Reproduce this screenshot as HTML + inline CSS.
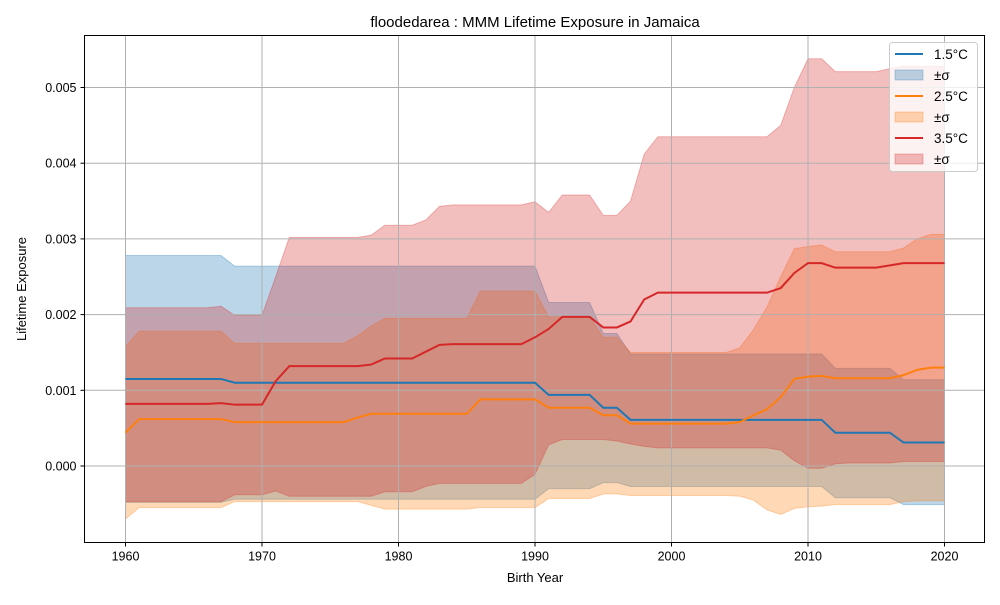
<!DOCTYPE html>
<html><head><meta charset="utf-8"><style>
body{margin:0;background:#fff;}
svg text{font-family:"Liberation Sans","DejaVu Sans",sans-serif;}
</style></head><body>
<svg id="chart" width="1000" height="600" xmlns="http://www.w3.org/2000/svg">
<rect width="1000" height="600" fill="#fff"/>
<text x="535" y="27" text-anchor="middle" font-size="15">floodedarea : MMM Lifetime Exposure in Jamaica</text>
<g id="fills"></g><g id="grid"></g><g id="lines"></g><g id="axes"></g>
<text x="535" y="582" text-anchor="middle" font-size="13">Birth Year</text>
<text transform="translate(26,289) rotate(-90)" text-anchor="middle" font-size="13">Lifetime Exposure</text>
<g id="legend"></g>
</svg>
<script>
const years = [];for(let y=1960;y<=2020;y++)years.push(y);
function seg(list){const out=[];for(const [v,n] of list)for(let i=0;i<n;i++)out.push(v/1000);return out;}
const mean15 = seg([[1.15,8],[1.10,23],[0.94,4],[0.77,2],[0.61,15],[0.44,5],[0.31,4]]);
const up15 = seg([[2.78,8],[2.64,23],[2.16,4],[1.75,2],[1.48,15],[1.29,5],[1.14,4]]);
const lo15 = seg([[-0.48,8],[-0.44,23],[-0.30,4],[-0.22,2],[-0.27,15],[-0.42,5],[-0.51,4]]);
const mean25 = seg([[0.44,1],[0.62,7],[0.58,9],[0.64,1],[0.69,8],[0.88,5],[0.77,4],[0.67,2],[0.56,8],[0.58,1],[0.67,1],[0.75,1],[0.91,1],[1.15,1],[1.18,1],[1.19,1],[1.16,5],[1.20,1],[1.27,1],[1.30,2]]);
const up25 = seg([[1.58,1],[1.78,7],[1.62,9],[1.72,1],[1.85,1],[1.95,7],[2.31,5],[1.97,4],[1.70,2],[1.50,8],[1.56,1],[1.80,1],[2.10,1],[2.50,1],[2.87,1],[2.90,1],[2.92,1],[2.83,5],[2.88,1],[3.00,1],[3.06,2]]);
const lo25 = seg([[-0.70,1],[-0.55,7],[-0.47,10],[-0.52,1],[-0.57,7],[-0.55,5],[-0.43,4],[-0.37,2],[-0.39,8],[-0.40,1],[-0.45,1],[-0.58,1],[-0.64,1],[-0.56,1],[-0.54,1],[-0.53,1],[-0.51,5],[-0.47,1],[-0.46,3]]);
const mean35 = seg([[0.82,7],[0.83,1],[0.81,3],[1.12,1],[1.32,6],[1.34,1],[1.42,3],[1.51,1],[1.60,1],[1.61,6],[1.70,1],[1.81,1],[1.97,3],[1.83,2],[1.91,1],[2.20,1],[2.29,9],[2.35,1],[2.55,1],[2.68,2],[2.62,4],[2.65,1],[2.68,4]]);
const up35 = seg([[2.09,7],[2.11,1],[1.99,3],[2.50,1],[3.02,6],[3.05,1],[3.18,3],[3.25,1],[3.43,1],[3.45,6],[3.49,1],[3.35,1],[3.58,3],[3.31,2],[3.50,1],[4.12,1],[4.35,9],[4.50,1],[5.00,1],[5.38,2],[5.21,4],[5.25,1],[5.28,4]]);
const lo35 = seg([[-0.47,8],[-0.38,3],[-0.33,1],[-0.40,7],[-0.34,3],[-0.27,1],[-0.23,7],[-0.11,1],[0.28,1],[0.35,4],[0.33,1],[0.29,1],[0.26,1],[0.24,9],[0.21,1],[0.07,1],[-0.03,2],[0.03,1],[0.04,4],[0.06,4]]);
const xTicks = [1960,1970,1980,1990,2000,2010,2020];
const yTicks = [0,0.001,0.002,0.003,0.004,0.005];
const yTickLabels = ["0.000","0.001","0.002","0.003","0.004","0.005"];

const L=84.5,R=984.5,T=35.5,B=542.5;
const sx=y=>125.5+(y-1960)*13.65;
const sy=v=>466-v*75700;
const NS="http://www.w3.org/2000/svg";
function mk(tag,attrs,parent){const e=document.createElementNS(NS,tag);for(const k in attrs)e.setAttribute(k,attrs[k]);parent.appendChild(e);return e;}
const grid=document.getElementById('grid'),axes=document.getElementById('axes'),fills=document.getElementById('fills'),lines=document.getElementById('lines'),leg=document.getElementById('legend');
xTicks.forEach(t=>{const x=sx(t);
 const g=mk('line',{x1:x,x2:x,y1:T,y2:B,stroke:'#b0b0b0','stroke-width':1},grid);
 
 
 mk('line',{x1:x,x2:x,y1:B,y2:B+4,stroke:'#000'},axes);
 const tx=mk('text',{x:x,y:B+18,'text-anchor':'middle','font-size':12.5},axes);tx.textContent=t;
 
 
});
yTicks.forEach((t,i)=>{const y=sy(t);
 const g=mk('line',{x1:L,x2:R,y1:y,y2:y,stroke:'#b0b0b0','stroke-width':1},grid);
 
 
 mk('line',{x1:L-4,x2:L,y1:y,y2:y,stroke:'#000'},axes);
 const tx=mk('text',{x:L-8,y:y+4.5,'text-anchor':'end','font-size':12.5},axes);tx.textContent=yTickLabels[i];
 
 
});
const fr=mk('rect',{x:L,y:T,width:R-L,height:B-T,fill:'none',stroke:'#000','stroke-width':1},axes);


const series=[['1.5°C','#1f77b4',mean15,up15,lo15,'15'],['2.5°C','#ff7f0e',mean25,up25,lo25,'25'],['3.5°C','#d62728',mean35,up35,lo35,'35']];
series.forEach(([name,c,m,u,l,id])=>{
 let d='M'+years.map((y,i)=>sx(y)+','+sy(u[i])).join('L');
 for(let i=years.length-1;i>=0;i--)d+='L'+sx(years[i])+','+sy(l[i]);
 const p=mk('path',{d:d+'Z',fill:c,'fill-opacity':0.3,stroke:c,'stroke-opacity':0.3},fills);
 
 
 const ln=mk('path',{d:'M'+years.map((y,i)=>sx(y)+','+sy(m[i])).join('L'),fill:'none',stroke:c,'stroke-width':2},lines);
 
 
});
const lb=mk('rect',{x:889.5,y:42.5,width:88,height:129,rx:3,fill:'#fff','fill-opacity':0.8,stroke:'#ccc'},leg);


series.forEach(([name,c],i)=>{
 const y0=54+i*42;
 const a=mk('line',{x1:895,x2:923,y1:y0,y2:y0,stroke:c,'stroke-width':2},leg);
 
 
 const t=mk('text',{x:934,y:y0+5,'font-size':13.5},leg);t.textContent=name;
 
 
 const r=mk('rect',{x:895,y:y0+16,width:28,height:10,fill:c,'fill-opacity':0.3,stroke:c,'stroke-opacity':0.3},leg);
 
 
 const t2=mk('text',{x:934,y:y0+26,'font-size':13.5},leg);t2.textContent='±σ';
 
 
});
</script>
</body></html>
